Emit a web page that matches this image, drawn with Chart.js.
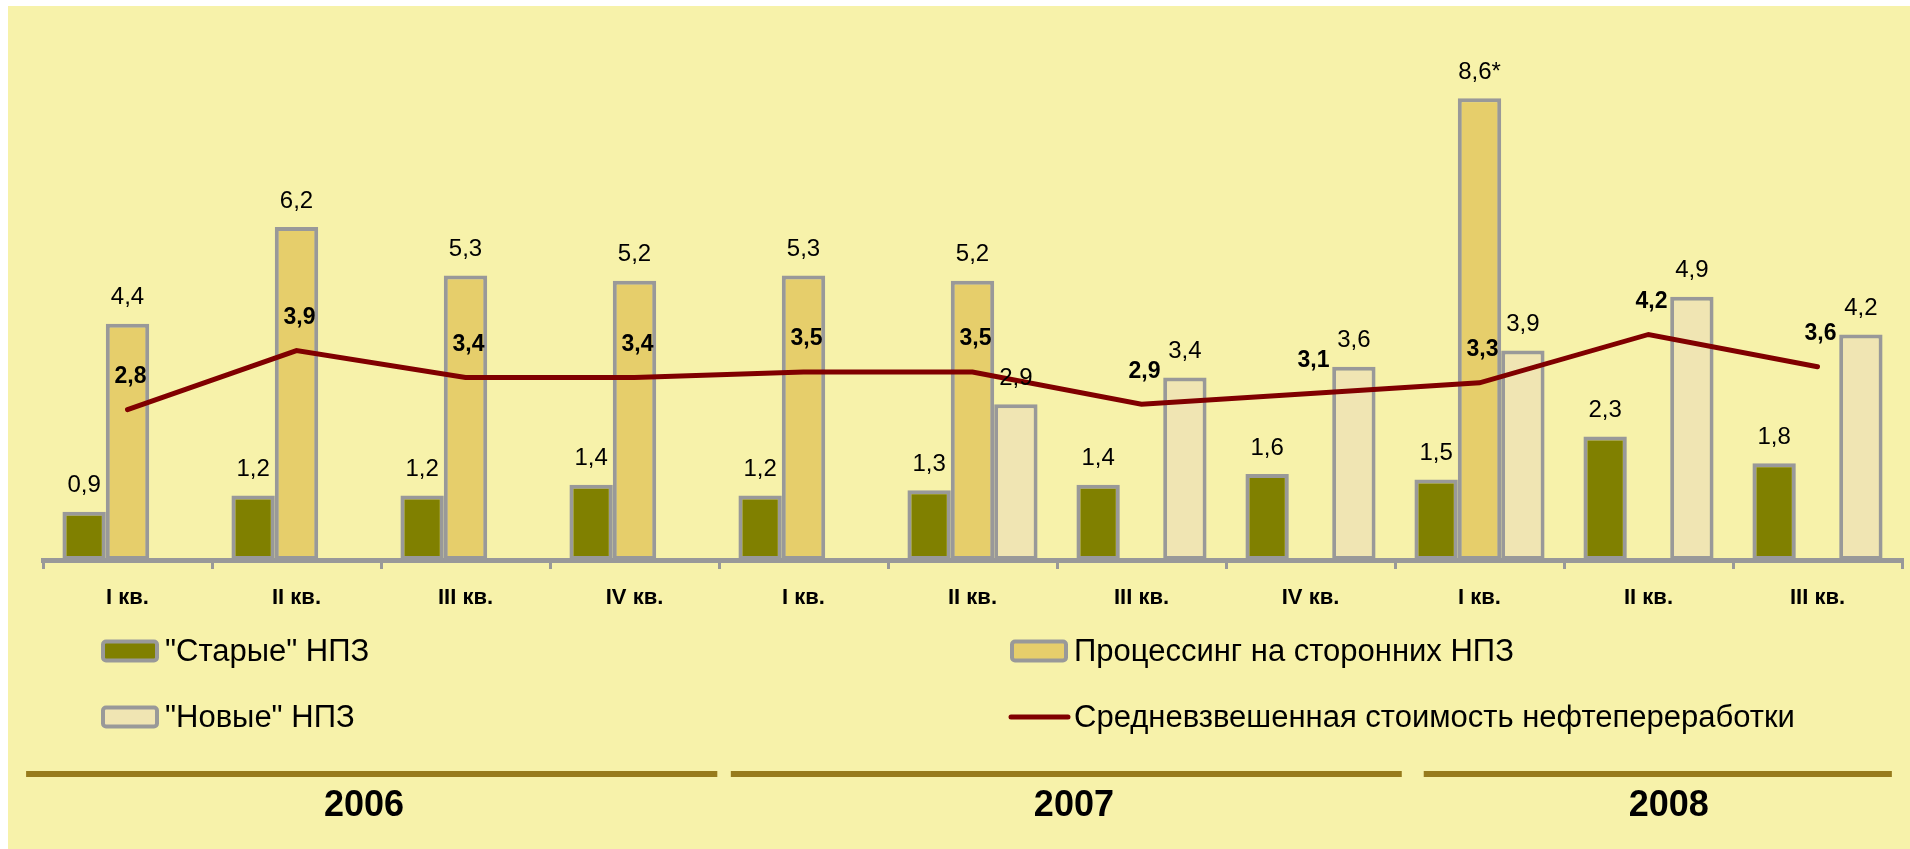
<!DOCTYPE html>
<html>
<head>
<meta charset="utf-8">
<script src="https://cdn.jsdelivr.net/npm/chart.js@4/dist/chart.umd.min.js"></script>
<style>
  html, body { margin: 0; padding: 0; background: #ffffff; }
  #wrap { position: relative; width: 1910px; height: 849px; overflow: hidden; }
  #bg { position: absolute; left: 8px; top: 6px; right: 0; bottom: 0; background: #F7F2AA; }
  #c { position: absolute; left: 0; top: 0; }
</style>
</head>
<body>
<div id="wrap">
  <div id="bg"></div>
  <canvas id="c" width="1910" height="849"></canvas>
</div>
<script>
// ---- data ----
const categories = ['I кв.', 'II кв.', 'III кв.', 'IV кв.', 'I кв.', 'II кв.', 'III кв.', 'IV кв.', 'I кв.', 'II кв.', 'III кв.'];
const years = ['2006', '2007', '2008'];
const oldRefineries = [0.9, 1.2, 1.2, 1.4, 1.2, 1.3, 1.4, 1.6, 1.5, 2.3, 1.8];
const processing = [4.4, 6.2, 5.3, 5.2, 5.3, 5.2, null, null, 8.6, null, null];
const processingNotes = ['', '', '', '', '', '', '', '', '*', '', ''];
const newRefineries = [null, null, null, null, null, 2.9, 3.4, 3.6, 3.9, 4.9, 4.2];
const avgCost = [2.8, 3.9, 3.4, 3.4, 3.5, 3.5, 2.9, 3.1, 3.3, 4.2, 3.6];
const seriesNames = ['"Старые" НПЗ', 'Процессинг на сторонних НПЗ', '"Новые" НПЗ', 'Средневзвешенная стоимость нефтепереработки'];

// ---- styles ----
const FONT = "'Liberation Sans', Arial, sans-serif";
const C_OLD = '#808000', C_PROC = '#E6CE6B', C_NEW = '#F0E5B3', C_BORDER = '#999999', C_LINE = '#800000', C_RULE = '#977B1C';

// year groupings in category units (start, end, label centre)
const yearSpans = [[-0.10, 3.99, 1.90], [4.07, 8.04, 6.10], [8.17, 10.94, 9.62]];

const fmt = v => v.toFixed(1).replace('.', ',');

const labelPlugin = {
  id: 'valueLabels',
  afterDatasetsDraw(chart) {
    const ctx = chart.ctx;
    ctx.save();
    ctx.fillStyle = '#000';
    ctx.textAlign = 'center';
    ctx.textBaseline = 'middle';
    chart.data.datasets.forEach((ds, di) => {
      const meta = chart.getDatasetMeta(di);
      meta.data.forEach((el, i) => {
        const v = ds.data[i];
        if (v === null || v === undefined) return;
        if (ds.type === 'line') {
          ctx.font = 'bold 23px ' + FONT;
          ctx.fillText(fmt(v), el.x + 3, el.y - 33);
        } else {
          ctx.font = '24px ' + FONT;
          const note = (ds.notes && ds.notes[i]) || '';
          ctx.fillText(fmt(v) + note, el.x, el.y - 26);
        }
      });
    });
    ctx.restore();
  }
};

const decorPlugin = {
  id: 'decor',
  afterDraw(chart) {
    const ctx = chart.ctx;
    const xs = chart.scales.x;
    const catW = (xs.right - xs.left) / categories.length;
    ctx.save();
    // legend
    const swW = 58, swH = 23;
    const items = [
      { x: 101, y: 651, name: seriesNames[0], fill: C_OLD, kind: 'box' },
      { x: 1010, y: 651, name: seriesNames[1], fill: C_PROC, kind: 'box' },
      { x: 101, y: 717, name: seriesNames[2], fill: C_NEW, kind: 'box' },
      { x: 1010, y: 717, name: seriesNames[3], fill: C_LINE, kind: 'line' }
    ];
    items.forEach(it => {
      if (it.kind === 'box') {
        ctx.beginPath();
        ctx.roundRect(it.x + 2, it.y - swH / 2 + 2, swW - 4, swH - 4, 3);
        ctx.fillStyle = it.fill;
        ctx.fill();
        ctx.lineWidth = 4;
        ctx.strokeStyle = C_BORDER;
        ctx.stroke();
      } else {
        ctx.beginPath();
        ctx.moveTo(it.x + 1, it.y);
        ctx.lineTo(it.x + swW, it.y);
        ctx.lineWidth = 5;
        ctx.strokeStyle = it.fill;
        ctx.lineCap = 'round';
        ctx.stroke();
      }
      ctx.fillStyle = '#000';
      ctx.font = '31px ' + FONT;
      ctx.textAlign = 'left';
      ctx.textBaseline = 'middle';
      ctx.fillText(it.name, it.x + swW + 6, it.y + 1);
    });
    // year rules and labels
    yearSpans.forEach((s, k) => {
      const x0 = xs.left + s[0] * catW, x1 = xs.left + s[1] * catW;
      ctx.fillStyle = C_RULE;
      ctx.fillRect(x0, 771, x1 - x0, 6);
      ctx.fillStyle = '#000';
      ctx.font = 'bold 36px ' + FONT;
      ctx.textAlign = 'center';
      ctx.textBaseline = 'middle';
      ctx.fillText(years[k], xs.left + s[2] * catW, 806);
    });
    ctx.restore();
  }
};

const barDs = (label, data, color, notes) => ({
  type: 'bar', label, data, notes,
  backgroundColor: color, borderColor: C_BORDER, borderWidth: 4,
  borderSkipped: false, order: 2,
  categoryPercentage: 0.77, barPercentage: 1.0
});

new Chart(document.getElementById('c'), {
  type: 'bar',
  data: {
    labels: categories,
    datasets: [
      barDs(seriesNames[0], oldRefineries, C_OLD),
      barDs(seriesNames[1], processing, C_PROC, processingNotes),
      barDs(seriesNames[2], newRefineries, C_NEW),
      {
        type: 'line', label: seriesNames[3], data: avgCost,
        borderColor: C_LINE, borderWidth: 5, pointRadius: 0, tension: 0,
        borderCapStyle: 'round', order: 1, fill: false
      }
    ]
  },
  options: {
    responsive: false,
    animation: false,
    devicePixelRatio: 1,
    layout: { padding: { left: 43, right: 8, top: 23, bottom: 0 } },
    plugins: { legend: { display: false }, tooltip: { enabled: false } },
    scales: {
      x: {
        offset: true,
        grid: { display: true, offset: true, drawOnChartArea: false, drawTicks: true, tickLength: 9, color: C_BORDER, lineWidth: 3 },
        border: { display: true, color: C_BORDER, width: 5 },
        ticks: { color: '#000', font: { family: FONT, size: 22, weight: 'bold' }, padding: 16, maxRotation: 0, autoSkip: false },
        afterFit(scale) { scale.height = 289; }
      },
      y: { display: false, min: 0, max: 10 }
    }
  },
  plugins: [labelPlugin, decorPlugin]
});
</script>
</body>
</html>
